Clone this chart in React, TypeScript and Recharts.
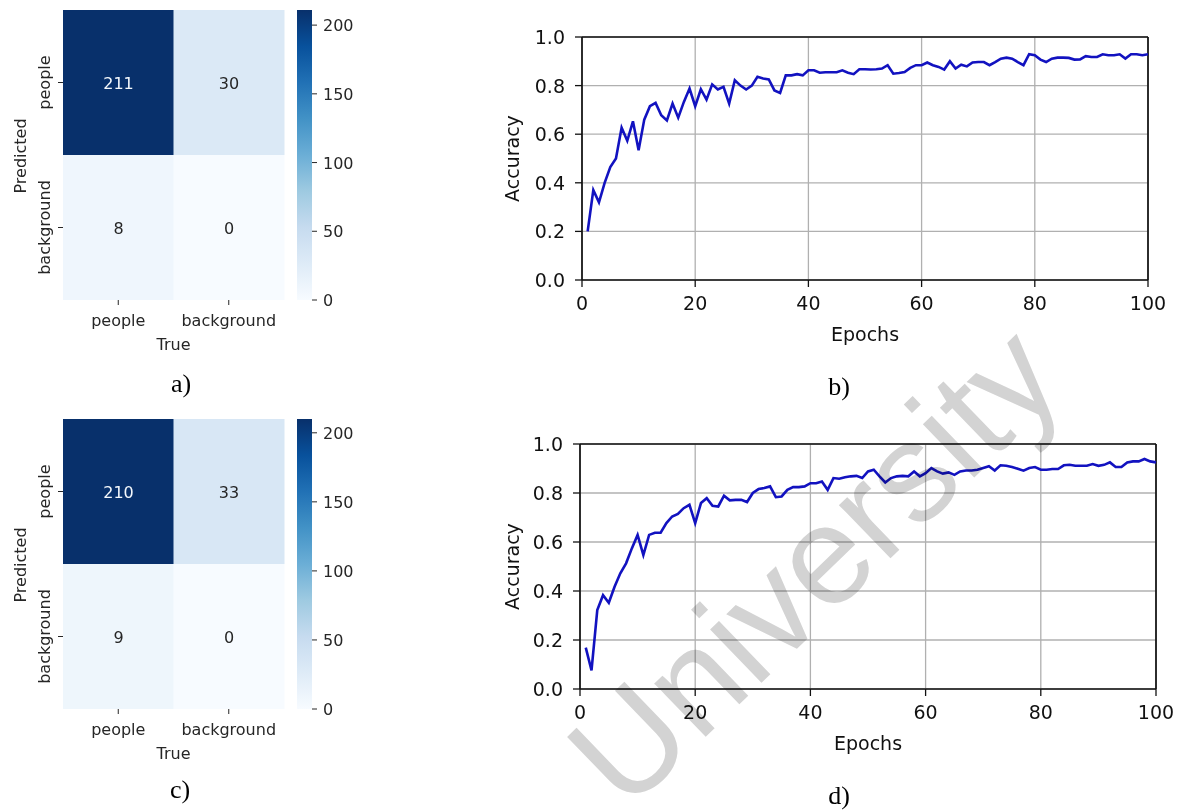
import React from 'react';
import {
  BarChart, Bar, XAxis, YAxis, Cell, LabelList,
  LineChart, Line, CartesianGrid, ReferenceLine,
} from 'recharts';

// ---------------- data ----------------
const trueLabels = ['people', 'background'];
const predictedLabels = ['people', 'background'];
// rows = predicted, columns = true
const matrixA = [[211, 30], [8, 0]];
const matrixC = [[210, 33], [9, 0]];
const colorbarTicks = [0, 50, 100, 150, 200];

const epochTicks = [0, 20, 40, 60, 80, 100];
const accuracyTicks = [0, 0.2, 0.4, 0.6, 0.8, 1.0];

const accuracyB = [
  0.20, 0.37, 0.32, 0.40, 0.465, 0.50, 0.627, 0.573, 0.653, 0.534,
  0.66, 0.715, 0.729, 0.678, 0.657, 0.726, 0.668, 0.733, 0.788, 0.715,
  0.785, 0.742, 0.805, 0.784, 0.795, 0.726, 0.822, 0.80, 0.784, 0.80,
  0.836, 0.829, 0.825, 0.78, 0.77, 0.842, 0.842, 0.847, 0.842, 0.863,
  0.863, 0.853, 0.855, 0.855, 0.855, 0.863, 0.853, 0.847, 0.867, 0.867,
  0.866, 0.867, 0.87, 0.884, 0.849, 0.852, 0.856, 0.873, 0.884, 0.884,
  0.895, 0.884, 0.877, 0.866, 0.90, 0.87, 0.886, 0.879, 0.895, 0.897,
  0.897, 0.884, 0.897, 0.911, 0.915, 0.911, 0.897, 0.884, 0.929, 0.925,
  0.907, 0.897, 0.911, 0.915, 0.915, 0.914, 0.907, 0.908, 0.921, 0.918,
  0.918, 0.929, 0.925, 0.925, 0.929, 0.911, 0.929, 0.929, 0.925, 0.929,
];

const accuracyD = [
  0.169, 0.076, 0.322, 0.383, 0.352, 0.417, 0.472, 0.513, 0.574, 0.629,
  0.547, 0.629, 0.638, 0.638, 0.677, 0.704, 0.715, 0.738, 0.752, 0.677,
  0.759, 0.779, 0.748, 0.745, 0.789, 0.77, 0.772, 0.772, 0.763, 0.80,
  0.816, 0.82, 0.827, 0.783, 0.786, 0.813, 0.824, 0.824, 0.827, 0.84,
  0.84, 0.847, 0.813, 0.861, 0.858, 0.864, 0.868, 0.87, 0.861, 0.888,
  0.895, 0.868, 0.843, 0.861, 0.868, 0.87, 0.868, 0.888, 0.868, 0.881,
  0.902, 0.888, 0.879, 0.884, 0.874, 0.888, 0.892, 0.892, 0.895, 0.902,
  0.909, 0.892, 0.913, 0.911, 0.906, 0.899, 0.891, 0.902, 0.906, 0.895,
  0.895, 0.898, 0.898, 0.913, 0.915, 0.911, 0.911, 0.911, 0.918, 0.911,
  0.915, 0.925, 0.906, 0.906, 0.925, 0.929, 0.929, 0.939, 0.929, 0.925,
];

const epochs = accuracyB.map((_, i) => i + 1);

// ---------------- styles ----------------
const SANS = '"DejaVu Sans", sans-serif';
const SERIF = '"Liberation Serif", "Times New Roman", serif';
const BLUES = ['#f7fbff', '#deebf7', '#c6dbef', '#9ecae1', '#6baed6', '#4292c6', '#2171b5', '#08519c', '#08306b'];

function hexToRgb(h: string) {
  return [parseInt(h.slice(1, 3), 16), parseInt(h.slice(3, 5), 16), parseInt(h.slice(5, 7), 16)];
}
function blues(t: number): string {
  const tt = Math.max(0, Math.min(1, t)) * (BLUES.length - 1);
  const i = Math.min(Math.floor(tt), BLUES.length - 2);
  const f = tt - i;
  const a = hexToRgb(BLUES[i]);
  const b = hexToRgb(BLUES[i + 1]);
  const c = a.map((v, k) => Math.round(v + (b[k] - v) * f));
  return `rgb(${c[0]},${c[1]},${c[2]})`;
}

// ---------------- heatmap ----------------
const HeatXTick = (props: any) => {
  const { x, y, payload } = props;
  return (
    <text x={x} y={y + 15} textAnchor="middle" fontFamily={SANS} fontSize={16} fill="#262626">
      {payload.value}
    </text>
  );
};

const HeatYTick = (props: any) => {
  const { x, y, payload } = props;
  const label = payload.value > 1 ? predictedLabels[0] : predictedLabels[1];
  const bx = x - 2.5;
  return (
    <text x={bx} y={y} transform={`rotate(-90, ${bx}, ${y})`} textAnchor="middle"
      fontFamily={SANS} fontSize={16} fill="#262626">
      {label}
    </text>
  );
};

function Heatmap({ matrix, left, top, gid }: { matrix: number[][]; left: number; top: number; gid: string }) {
  const vmax = Math.max(...matrix.flat());
  const data = trueLabels.map((t, j) => ({
    trueLabel: t,
    rowBackground: 1,
    rowPeople: 1,
    valBackground: matrix[1][j],
    valPeople: matrix[0][j],
  }));

  const annot = (key: 'valBackground' | 'valPeople') => (p: any) => {
    const { x, y, width, height, index } = p;
    const v = data[index][key];
    const dark = v / vmax > 0.6;
    return (
      <text x={x + width / 2} y={y + height / 2 + 6} textAnchor="middle" fontFamily={SANS}
        fontSize={16} fill={dark ? '#f4f8fc' : '#262626'}>
        {v}
      </text>
    );
  };

  const cbData = [{ name: 'cb', v: vmax }];

  return (
    <>
      <div style={{ position: 'absolute', left, top }}>
        <BarChart width={290} height={360} data={data} margin={{ top: 10, right: 6, bottom: 0, left: 0 }}
          barCategoryGap={0} barGap={0}>
          <XAxis dataKey="trueLabel" type="category" height={60} axisLine={false}
            tickSize={5} tickMargin={6} tickLine={{ stroke: '#262626' }} tick={<HeatXTick />}
            label={(p: any) => {
              const vb = p.viewBox;
              return (
                <text x={vb.x + vb.width / 2} y={vb.y + 50} textAnchor="middle" fontFamily={SANS}
                  fontSize={16} fill="#262626">True</text>
              );
            }} />
          <YAxis type="number" domain={[0, 2]} ticks={[0.5, 1.5]} width={63} axisLine={false}
            tickSize={5} tickMargin={6} tickLine={{ stroke: '#262626' }} tick={<HeatYTick />}
            label={(p: any) => {
              const vb = p.viewBox;
              const bx = vb.x + 26;
              const cy = vb.y + vb.height / 2 + 1;
              return (
                <text x={bx} y={cy} transform={`rotate(-90, ${bx}, ${cy})`} textAnchor="middle"
                  fontFamily={SANS} fontSize={16} fill="#262626">Predicted</text>
              );
            }} />
          <Bar dataKey="rowBackground" stackId="m" isAnimationActive={false}>
            {data.map((d, i) => <Cell key={`b${i}`} fill={blues(d.valBackground / vmax)} />)}
            <LabelList dataKey="valBackground" content={annot('valBackground')} />
          </Bar>
          <Bar dataKey="rowPeople" stackId="m" isAnimationActive={false}>
            {data.map((d, i) => <Cell key={`p${i}`} fill={blues(d.valPeople / vmax)} />)}
            <LabelList dataKey="valPeople" content={annot('valPeople')} />
          </Bar>
        </BarChart>
      </div>
      <div style={{ position: 'absolute', left: left + 297, top }}>
        <BarChart width={60} height={310} data={cbData} margin={{ top: 10, right: 0, bottom: 10, left: 0 }}
          barCategoryGap={0}>
          <defs>
            <linearGradient id={gid} x1="0" y1="1" x2="0" y2="0">
              {BLUES.map((c, i) => (
                <stop key={i} offset={`${(i / (BLUES.length - 1)) * 100}%`} stopColor={c} />
              ))}
            </linearGradient>
          </defs>
          <XAxis dataKey="name" hide />
          <YAxis orientation="right" type="number" domain={[0, vmax]} ticks={colorbarTicks} width={45}
            axisLine={false} tickSize={5} tickMargin={6} tickLine={{ stroke: '#262626' }}
            tick={(p: any) => (
              <text x={p.x} y={p.y + 6} textAnchor="start" fontFamily={SANS} fontSize={16} fill="#262626">
                {p.payload.value}
              </text>
            )} />
          <Bar dataKey="v" fill={`url(#${gid})`} isAnimationActive={false} />
        </BarChart>
      </div>
    </>
  );
}

// ---------------- accuracy line chart ----------------
const LineXTick = (props: any) => {
  const { x, y, payload } = props;
  return (
    <text x={x} y={y + 19} textAnchor="middle" fontFamily={SANS} fontSize={19} fill="#111">
      {payload.value}
    </text>
  );
};
const LineYTick = (props: any) => {
  const { x, y, payload } = props;
  return (
    <text x={x} y={y + 7} textAnchor="end" fontFamily={SANS} fontSize={19} fill="#111">
      {Number(payload.value).toFixed(1)}
    </text>
  );
};

function AccuracyChart({ values, left, top, width, yAxisWidth, plotHeight, marginRight }:
  { values: number[]; left: number; top: number; width: number; yAxisWidth: number; plotHeight: number; marginRight: number }) {
  const data = values.map((v, i) => ({ epoch: epochs[i], acc: v }));
  const mt = 37;
  const xh = 75;
  return (
    <div style={{ position: 'absolute', left, top }}>
      <LineChart width={width} height={mt + plotHeight + xh} data={data}
        margin={{ top: mt, right: marginRight, bottom: 0, left: 0 }}>
        <CartesianGrid stroke="#b0b0b0" strokeWidth={1.3} />
        <XAxis dataKey="epoch" type="number" domain={[0, 100]} ticks={epochTicks} height={xh}
          axisLine={{ stroke: '#111', strokeWidth: 1.7 }} tickLine={{ stroke: '#111', strokeWidth: 1.3 }}
          tickSize={7} tickMargin={4} tick={<LineXTick />}
          label={(p: any) => {
            const vb = p.viewBox;
            return (
              <text x={vb.x + vb.width / 2} y={vb.y + 61} textAnchor="middle" fontFamily={SANS}
                fontSize={19} fill="#111">Epochs</text>
            );
          }} />
        <YAxis type="number" domain={[0, 1]} ticks={accuracyTicks} width={yAxisWidth}
          axisLine={{ stroke: '#111', strokeWidth: 1.7 }} tickLine={{ stroke: '#111', strokeWidth: 1.3 }}
          tickSize={7} tickMargin={10} tick={<LineYTick />}
          label={(p: any) => {
            const vb = p.viewBox;
            const bx = vb.x + 29;
            const cy = vb.y + vb.height / 2;
            return (
              <text x={bx} y={cy} transform={`rotate(-90, ${bx}, ${cy})`} textAnchor="middle"
                fontFamily={SANS} fontSize={19} fill="#111">Accuracy</text>
            );
          }} />
        <ReferenceLine y={1} stroke="#111" strokeWidth={1.7} />
        <ReferenceLine x={100} stroke="#111" strokeWidth={1.7} />
        <Line dataKey="acc" type="linear" stroke="#1212c0" strokeWidth={2.6} dot={false}
          isAnimationActive={false} />
      </LineChart>
    </div>
  );
}

export default function App() {
  return (
    <div style={{ position: 'absolute', left: 0, top: 0, width: 1181, height: 811, background: '#fff', overflow: 'hidden' }}>
      <Heatmap matrix={matrixA} left={0} top={0} gid="bluesA" />
      <Heatmap matrix={matrixC} left={0} top={409} gid="bluesC" />
      <AccuracyChart values={accuracyB} left={490} top={0} width={690} yAxisWidth={92} plotHeight={243} marginRight={32} />
      <AccuracyChart values={accuracyD} left={490} top={407} width={691} yAxisWidth={90} plotHeight={245} marginRight={25} />
      <svg width={1181} height={811} style={{ position: 'absolute', left: 0, top: 0, pointerEvents: 'none', mixBlendMode: 'multiply' }}>
        <text x={181} y={392} textAnchor="middle" fontFamily={SERIF} fontSize={26} fill="#000">a)</text>
        <text x={839} y={395} textAnchor="middle" fontFamily={SERIF} fontSize={26} fill="#000">b)</text>
        <text x={180} y={798} textAnchor="middle" fontFamily={SERIF} fontSize={26} fill="#000">c)</text>
        <text x={839} y={804} textAnchor="middle" fontFamily={SERIF} fontSize={26} fill="#000">d)</text>
        <text x={818} y={612} transform="rotate(-44, 818, 570)" textAnchor="middle"
          fontFamily='"Liberation Sans", Arial, sans-serif' fontSize={140} fill="#d3d3d3">University</text>
      </svg>
    </div>
  );
}
